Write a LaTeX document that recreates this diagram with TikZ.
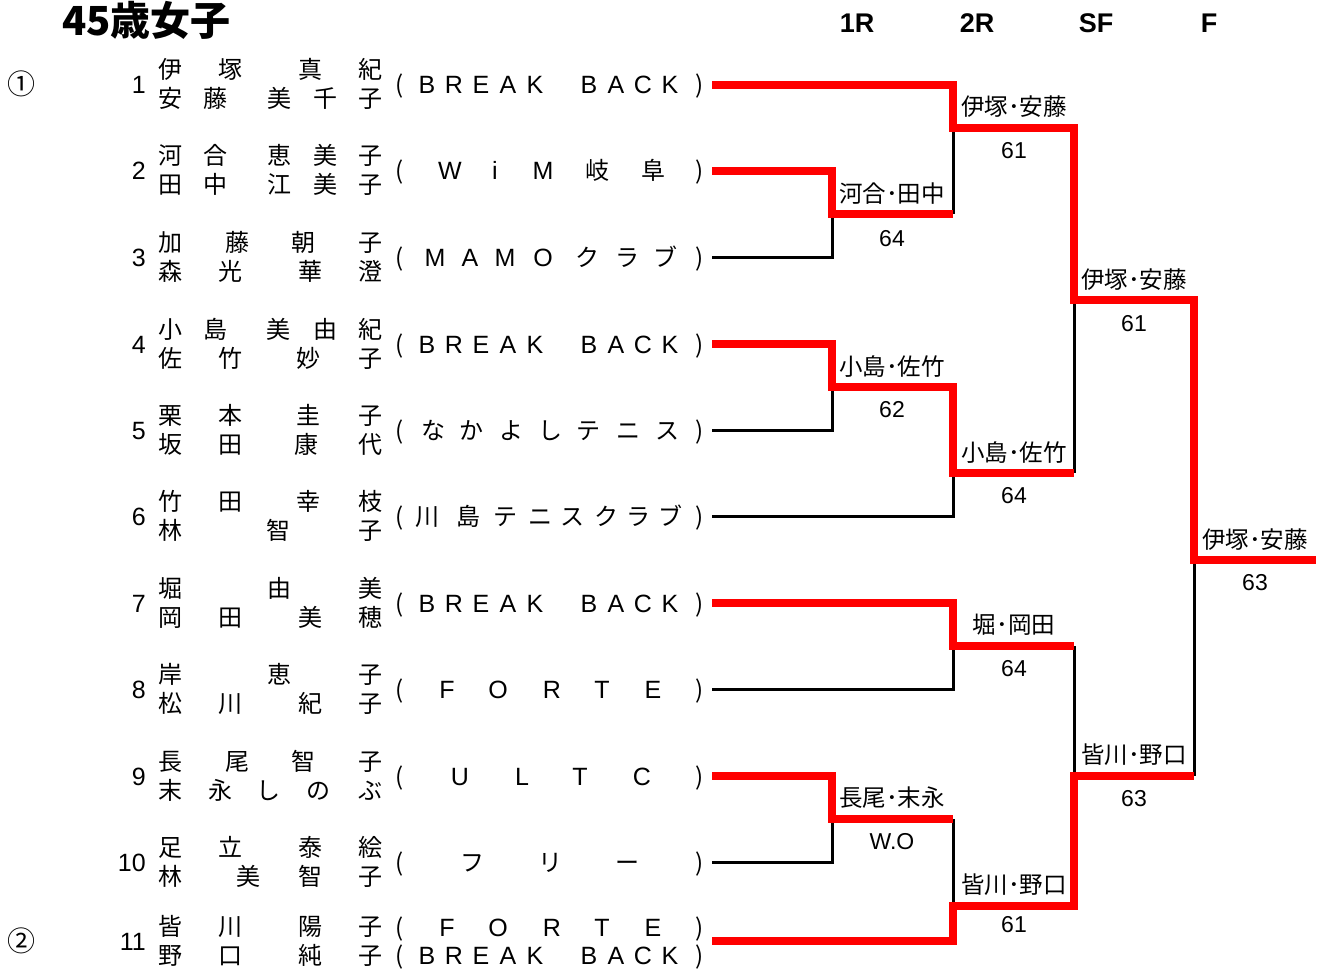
\documentclass[tikz,border=0pt]{standalone}
\usepackage{fontspec}
\setmainfont{Noto Sans CJK JP}
\newfontfamily\lat{Liberation Sans}
\definecolor{winred}{RGB}{255,0,0}
\tikzset{
  win/.style={draw=winred, line width=8pt},
  lose/.style={draw=black, line width=3pt},
  nm/.style={font=\fontsize{24}{24}\selectfont, inner sep=0pt, text height=21pt, text depth=3pt},
  club/.style={nm},
  latin/.style={nm, font=\lat\fontsize{25}{25}\selectfont},
  seed/.style={font=\lat\fontsize{25}{25}\selectfont, inner sep=0pt, text height=18pt, text depth=0pt, anchor=east},
  circ/.style={font=\fontsize{28}{28}\selectfont, inner sep=0pt},
  res/.style={font=\fontsize{23.5}{24}\selectfont, inner sep=0pt, text height=20pt, text depth=3pt},
  score/.style={res, font=\lat\fontsize{23}{23}\selectfont},
  rnd/.style={font=\lat\bfseries\fontsize{27}{27}\selectfont, inner sep=0pt, text height=19pt, text depth=0pt},
  ttl/.style={font=\bfseries\fontsize{40}{40}\selectfont, inner sep=0pt, text height=35pt, text depth=5pt, anchor=west}
}
\begin{document}
\begin{tikzpicture}[x=1pt,y=-1pt]
\useasboundingbox (0,0) rectangle (1327,973);

\node[ttl] (title) at (62,21) {45歳女子};
\node[rnd] (hr1) at (857,23) {1R};
\node[rnd] (hr2) at (977,23) {2R};
\node[rnd] (hsf) at (1096,23) {SF};
\node[rnd] (hf) at (1209,23) {F};

\node[circ] (seed1) at (22,84) {①};
\node[circ] (seed2) at (22,941) {②};

% draw numbers
\foreach \n/\y in {1/85,2/171,3/258,4/344,5/430,6/516,7/603,8/689,9/776,10/862,11/941}
  \node[seed] (no\n) at (146,\y) {\n};

% players
\foreach \x/\c in {170/伊,230/塚,310/真,370/紀} \node[nm] (p1a\x) at (\x,70) {\c};
\foreach \x/\c in {170/安,215/藤,279/美,325/千,370/子} \node[nm] (p1b\x) at (\x,99) {\c};
\foreach \x/\c in {170/河,215/合,279/恵,325/美,370/子} \node[nm] (p2a\x) at (\x,156) {\c};
\foreach \x/\c in {170/田,215/中,279/江,325/美,370/子} \node[nm] (p2b\x) at (\x,185) {\c};
\foreach \x/\c in {170/加,237/藤,303/朝,370/子} \node[nm] (p3a\x) at (\x,243) {\c};
\foreach \x/\c in {170/森,230/光,310/華,370/澄} \node[nm] (p3b\x) at (\x,272) {\c};
\foreach \x/\c in {170/小,215/島,278/美,325/由,370/紀} \node[nm] (p4a\x) at (\x,329) {\c};
\foreach \x/\c in {170/佐,230/竹,308/妙,370/子} \node[nm] (p4b\x) at (\x,358) {\c};
\foreach \x/\c in {170/栗,230/本,308/圭,370/子} \node[nm] (p5a\x) at (\x,415) {\c};
\foreach \x/\c in {170/坂,230/田,306/康,370/代} \node[nm] (p5b\x) at (\x,444) {\c};
\foreach \x/\c in {170/竹,230/田,308/幸,370/枝} \node[nm] (p6a\x) at (\x,501) {\c};
\foreach \x/\c in {170/林,278/智,370/子} \node[nm] (p6b\x) at (\x,530) {\c};
\foreach \x/\c in {170/堀,279/由,370/美} \node[nm] (p7a\x) at (\x,588) {\c};
\foreach \x/\c in {170/岡,230/田,310/美,370/穂} \node[nm] (p7b\x) at (\x,617) {\c};
\foreach \x/\c in {170/岸,279/恵,370/子} \node[nm] (p8a\x) at (\x,674) {\c};
\foreach \x/\c in {170/松,230/川,310/紀,370/子} \node[nm] (p8b\x) at (\x,703) {\c};
\foreach \x/\c in {170/長,237/尾,303/智,370/子} \node[nm] (p9a\x) at (\x,761) {\c};
\foreach \x/\c in {170/末,220/永,268/し,318/の,370/ぶ} \node[nm] (p9b\x) at (\x,790) {\c};
\foreach \x/\c in {170/足,230/立,310/泰,370/絵} \node[nm] (p10a\x) at (\x,847) {\c};
\foreach \x/\c in {170/林,248/美,310/智,370/子} \node[nm] (p10b\x) at (\x,876) {\c};
\foreach \x/\c in {170/皆,230/川,310/陽,370/子} \node[nm] (p11a\x) at (\x,926) {\c};
\foreach \x/\c in {170/野,230/口,310/純,370/子} \node[nm] (p11b\x) at (\x,955) {\c};

% clubs
\foreach \y in {85,171,258,344,430,516,603,689,776,862,927,955} {
  \node[club] (lp\y) at (400,\y) {(};
  \node[club] (rp\y) at (700,\y) {)};
}
\foreach \y in {85,344,603,955}
  \foreach \x/\c in {427/B,454/R,481/E,508/A,535/K,589/B,616/A,643/C,670/K}
    \node[latin] (bb\y-\x) at (\x,\y) {\c};
\foreach \x/\c in {450/W,495/i,543/M} \node[latin] (c2\x) at (\x,171) {\c};
\foreach \x/\c in {597/岐,653/阜} \node[club] (c2\x) at (\x,171) {\c};
\foreach \x/\c in {435/M,470/A,505/M,543/O} \node[latin] (c3\x) at (\x,258) {\c};
\foreach \x/\c in {587/ク,627/ラ,665/ブ} \node[club] (c3\x) at (\x,258) {\c};
\foreach \x/\c in {433/な,471/か,511/よ,550/し,588/テ,628/ニ,667/ス} \node[club] (c5\x) at (\x,430) {\c};
\foreach \x/\c in {427/川,468/島,505/テ,540/ニ,572/ス,606/ク,638/ラ,670/ブ} \node[club] (c6\x) at (\x,516) {\c};
\foreach \y in {689,927}
  \foreach \x/\c in {447/F,498/O,552/R,602/T,653/E}
    \node[latin] (fo\y-\x) at (\x,\y) {\c};
\foreach \x/\c in {460/U,522/L,580/T,642/C} \node[latin] (c9\x) at (\x,776) {\c};
\foreach \x/\c in {472/フ,550/リ,627/ー} \node[club] (c10\x) at (\x,862) {\c};

% bracket
\foreach \n/\y in {1/85,2/171,3/258,4/344,5/430,6/516,7/603,8/689,9/776,10/862,11/941}
  \coordinate (e\n) at (712,\y);
\coordinate (r1a) at (832,214);
\coordinate (r1b) at (832,387);
\coordinate (r1c) at (832,819);
\coordinate (r2a) at (953,128);
\coordinate (r2b) at (953,473);
\coordinate (r2c) at (953,646);
\coordinate (r2d) at (953,906);
\coordinate (sfa) at (1074,300);
\coordinate (sfb) at (1074,776);
\coordinate (fin) at (1194,560);
\coordinate (champ) at (1316,560);

\draw[lose] (e3) -| (r1a);
\draw[lose] (r1a -| r2a) -- (r2a);
\draw[lose] (e5) -| (r1b);
\draw[lose] (e6) -| (r2b);
\draw[lose] (r2b -| sfa) -- (sfa);
\draw[lose] (e8) -| (r2c);
\draw[lose] (r2c -| sfb) -- (sfb);
\draw[lose] (e10) -| (r1c);
\draw[lose] (r1c -| r2d) -- (r2d);
\draw[lose] (sfb -| fin) -- (fin);

\draw[win] (e1) -| (r2a) -| (sfa) -| (fin) -- (champ);
\draw[win] (e2) -| (r1a) -- (r1a -| r2a);
\draw[win] (e4) -| (r1b) -| (r2b) -- (r2b -| sfa);
\draw[win] (e7) -| (r2c) -- (r2c -| sfb);
\draw[win] (e9) -| (r1c) -- (r1c -| r2d);
\draw[win] (e11) -| (r2d) -| (sfb) -- (sfb -| fin);

% results
\node[res] (wr1a) at (892,194) {河合･田中};
\node[score] (sr1a) at (892,238) {64};
\node[res] (wr2a) at (1014,107) {伊塚･安藤};
\node[score] (sr2a) at (1014,150) {61};
\node[res] (wr1b) at (892,367) {小島･佐竹};
\node[score] (sr1b) at (892,409) {62};
\node[res] (wr2b) at (1014,453) {小島･佐竹};
\node[score] (sr2b) at (1014,495) {64};
\node[res] (wsfa) at (1134,280) {伊塚･安藤};
\node[score] (ssfa) at (1134,323) {61};
\node[res] (wr2c) at (1014,625) {堀･岡田};
\node[score] (sr2c) at (1014,668) {64};
\node[res] (wr1c) at (892,798) {長尾･末永};
\node[score] (sr1c) at (892,841) {W.O};
\node[res] (wr2d) at (1014,885) {皆川･野口};
\node[score] (sr2d) at (1014,924) {61};
\node[res] (wsfb) at (1134,755) {皆川･野口};
\node[score] (ssfb) at (1134,798) {63};
\node[res] (wfin) at (1255,540) {伊塚･安藤};
\node[score] (sfin) at (1255,582) {63};

\end{tikzpicture}
\end{document}
